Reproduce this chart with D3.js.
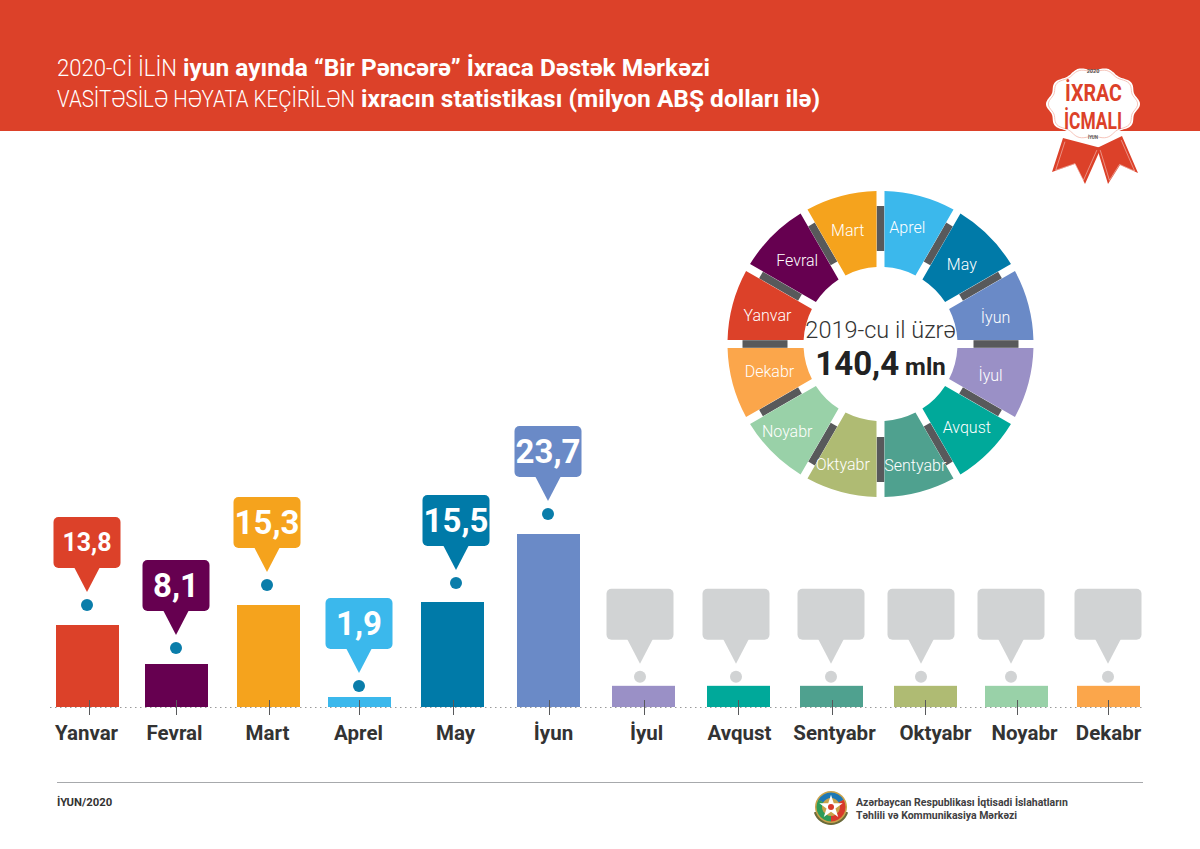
<!DOCTYPE html>
<html>
<head>
<meta charset="utf-8">
<script src="https://cdn.jsdelivr.net/npm/d3@7"></script>
<style>
  html, body { margin: 0; padding: 0; background: #fff; }
  svg { display: block; }
  text { font-family: Roboto, "Noto Sans", sans-serif; }
</style>
</head>
<body>
<svg id="chart" width="1200" height="849"></svg>
<script>
// --- data ---
const months = ['Yanvar', 'Fevral', 'Mart', 'Aprel', 'May', 'İyun', 'İyul', 'Avqust', 'Sentyabr', 'Oktyabr', 'Noyabr', 'Dekabr'];
const values2020 = [13.8, 8.1, 15.3, 1.9, 15.5, 23.7, null, null, null, null, null, null];
const valueLabels = ['13,8', '8,1', '15,3', '1,9', '15,5', '23,7', '', '', '', '', '', ''];
const monthColors = ['#DC4129', '#660050', '#F5A31D', '#3BB8EC', '#007AA8', '#6A8AC7', '#9A90C6', '#00A99A', '#4FA18F', '#AFBB73', '#99D1A8', '#FBA64B'];
const placeholderValue = 4; // months still to come get a short stub bar
const total2019Label = '140,4';

// --- layout (the poster does not place things on a regular grid) ---
const BASE_Y = 707;
const BAR_W = 63;
const barLeft = [56, 145, 237, 328, 421, 517, 612, 707, 800, 894, 985, 1077];
const bubbleCx = [87, 176, 267, 359, 456, 548, 640, 736, 831, 921, 1011, 1108];
const tickPos = [89, 176, 269, 359, 453, 549, 644, 738, 832, 925, 1017, 1108];
const labelCx = [86, 174, 267, 358, 455, 553, 646, 739, 834, 935, 1024, 1108];
const dotLift = [20, 16, 20, 11, 19, 20, 9, 9, 9, 9, 9, 9];
const bubbleFont = [25, 33, 33, 33, 33, 33, 33, 33, 33, 33, 33, 33];
const pieCx = 880.5, pieCy = 344;
const pieNudge = [[-2, 1], [-2, -2], [-3, -2], [-3, -5], [0, 2], [4, 3], [-1, 2], [5, 2], [5, 10], [-8, 9], [-12, 6], [0, -2]];

const svg = d3.select('#chart');

// header band
svg.append('rect').attr('width', 1200).attr('height', 131).attr('fill', '#DC4129');

// the poster font is narrower in light and wider in bold than Roboto, so each run gets its own width
const titleRuns = [
  { text: '2020-Cİ İLİN', x: 57, y: 75.5, len: 120, weight: 300 },
  { text: 'iyun ayında “Bir Pəncərə” İxraca Dəstək Mərkəzi', x: 183, y: 75.5, len: 527, weight: 700 },
  { text: 'VASİTƏSİLƏ HƏYATA KEÇİRİLƏN', x: 57, y: 106.5, len: 298, weight: 300 },
  { text: 'ixracın statistikası (milyon ABŞ dolları ilə)', x: 361, y: 106.5, len: 459, weight: 700 }
];
svg.append('g').selectAll('text').data(titleRuns).join('text')
  .attr('x', d => d.x).attr('y', d => d.y)
  .attr('textLength', d => d.len).attr('lengthAdjust', 'spacingAndGlyphs')
  .attr('font-size', 23).attr('font-weight', d => d.weight).attr('fill', '#fff')
  .text(d => d.text);

// --- badge ---
function drawBadge() {
  const g = svg.append('g');
  const ribbons = [
    [[1063, 138], [1052, 172], [1075, 164], [1085, 184], [1101, 148]],
    [[1097, 148], [1108, 184], [1120, 165], [1138, 173], [1122, 136]]
  ];
  g.selectAll('polygon').data(ribbons).join('polygon')
    .attr('points', d => d.join(' '))
    .attr('fill', '#DC4129');
  // thin white inset on the ribbons, left open at the top
  g.selectAll('polyline').data(ribbons).join('polyline')
    .attr('points', d => {
      const mx = d3.mean(d, p => p[0]), my = d3.mean(d, p => p[1]);
      return d.map(p => [mx + (p[0] - mx) * 0.84, my + (p[1] - my) * 0.84]).join(' ');
    })
    .attr('fill', 'none').attr('stroke', '#fff').attr('stroke-width', 0.6).attr('opacity', 0.7);

  const cx = 1093, cy = 104;
  const blob = k => d3.range(0, 360, 3).map(a => {
    const t = a * Math.PI / 180;
    const r = k * (0.96 + 0.04 * Math.cos(10 * t));
    return [cx + 47 * r * Math.cos(t), cy + 37 * r * Math.sin(t)];
  });
  const line = d3.line().curve(d3.curveCardinalClosed);
  g.append('path').attr('d', line(blob(1))).attr('fill', '#fff');
  g.append('path').attr('d', line(blob(0.95))).attr('fill', 'none').attr('stroke', '#F2B5A8').attr('stroke-width', 0.8);

  g.append('text').attr('x', cx).attr('y', 73).attr('text-anchor', 'middle')
    .attr('font-size', 5.5).attr('font-weight', 700).attr('fill', '#555').text('2020');
  g.append('text').attr('x', 1065).attr('y', 101)
    .attr('textLength', 57).attr('lengthAdjust', 'spacingAndGlyphs')
    .attr('font-size', 24).attr('font-weight', 700).attr('fill', '#DC4129').text('İXRAC');
  g.append('text').attr('x', 1064).attr('y', 129)
    .attr('textLength', 58).attr('lengthAdjust', 'spacingAndGlyphs')
    .attr('font-size', 24).attr('font-weight', 700).attr('fill', '#DC4129').text('İCMALI');
  g.append('text').attr('x', cx).attr('y', 139).attr('text-anchor', 'middle')
    .attr('font-size', 4.5).attr('font-weight', 700).attr('fill', '#555').text('İYUN');
}
drawBadge();

// --- ring with the 2019 months ---
const pie = d3.pie().value(1).sort(null)
  .startAngle(-Math.PI / 2).endAngle(Math.PI * 1.5);
const slices = pie(months);

const arc = d3.arc().innerRadius(77).outerRadius(153)
  .padRadius(120).padAngle(8 / 120);

const ring = svg.append('g').attr('transform', `translate(${pieCx},${pieCy})`);

// grey connectors sit in the gaps between slices
ring.selectAll('rect.link').data(slices).join('rect')
  .attr('class', 'link')
  .attr('x', -3.8).attr('width', 7.6)
  .attr('y', -138).attr('height', 45)
  .attr('fill', '#58595B')
  .attr('transform', d => `rotate(${d.startAngle * 180 / Math.PI})`);

ring.selectAll('path').data(slices).join('path')
  .attr('d', arc)
  .attr('fill', (d, i) => monthColors[i]);

ring.selectAll('text.slice').data(slices).join('text')
  .attr('class', 'slice')
  .attr('x', (d, i) => arc.centroid(d)[0] + pieNudge[i][0])
  .attr('y', (d, i) => arc.centroid(d)[1] + pieNudge[i][1])
  .attr('text-anchor', 'middle')
  .attr('dominant-baseline', 'central')
  .attr('font-size', 16)
  .attr('font-weight', 300)
  .attr('fill', '#fff')
  .text(d => d.data);

ring.append('text').attr('y', -6).attr('text-anchor', 'middle')
  .attr('font-size', 23.5).attr('font-weight', 300).attr('fill', '#333')
  .text('2019-cu il üzrə');
const totalText = ring.append('text').attr('y', 30.5).attr('text-anchor', 'middle').attr('fill', '#222');
totalText.append('tspan').attr('font-size', 33).attr('font-weight', 700).text(total2019Label);
totalText.append('tspan').attr('font-size', 24).attr('font-weight', 700).text(' mln');

// --- bars ---
// bar heights on the poster are not proportional, so the scale runs through the read heights
const y = d3.scaleLinear()
  .domain([0, 1.9, 8.1, 13.8, 15.3, 15.5, 23.7])
  .range([BASE_Y, BASE_Y - 10, BASE_Y - 43, BASE_Y - 82, BASE_Y - 102, BASE_Y - 105, BASE_Y - 173]);
const xBar = d3.scaleOrdinal(months, barLeft);
const xBubble = d3.scaleOrdinal(months, bubbleCx);
const xTick = d3.scaleOrdinal(months, tickPos);
const xLabel = d3.scaleOrdinal(months, labelCx);

const rows = months.map((m, i) => ({
  month: m,
  value: values2020[i],
  label: valueLabels[i],
  color: monthColors[i],
  top: y(values2020[i] === null ? placeholderValue : values2020[i]),
  lift: dotLift[i],
  font: bubbleFont[i]
}));

svg.append('g').selectAll('rect').data(rows).join('rect')
  .attr('x', d => xBar(d.month))
  .attr('y', d => d.top)
  .attr('width', BAR_W)
  .attr('height', d => BASE_Y - d.top)
  .attr('fill', d => d.color);

// dotted baseline
svg.append('line')
  .attr('x1', 50).attr('x2', 1143).attr('y1', BASE_Y + 0.5).attr('y2', BASE_Y + 0.5)
  .attr('stroke', '#999').attr('stroke-width', 1).attr('stroke-dasharray', '1.5 3.5');

// tick marks and month names
const tickAxis = d3.axisBottom(xTick).tickSize(15).tickFormat('');
svg.append('g').attr('transform', `translate(0,${BASE_Y - 7})`).call(tickAxis)
  .call(g => g.select('.domain').remove())
  .call(g => g.selectAll('line').attr('stroke', '#58595B'));

const labelAxis = d3.axisBottom(xLabel).tickSize(0).tickPadding(0);
svg.append('g').attr('transform', `translate(0,${BASE_Y + 18})`).call(labelAxis)
  .call(g => g.select('.domain').remove())
  .call(g => g.selectAll('text')
    .attr('font-family', 'Roboto').attr('font-size', 20.5).attr('font-weight', 700).attr('fill', '#333'));

// markers above the bars
const markers = svg.append('g').selectAll('g').data(rows).join('g')
  .attr('transform', d => `translate(${xBubble(d.month)},${d.top - d.lift})`);

markers.append('circle')
  .attr('r', 6)
  .attr('fill', d => d.value === null ? '#D1D3D4' : '#0A7DAA');

markers.append('rect')
  .attr('x', -33.5).attr('y', -88)
  .attr('width', 67).attr('height', 51).attr('rx', 5)
  .attr('fill', d => d.value === null ? '#D1D3D4' : d.color);

markers.append('polygon')
  .attr('points', '-13,-38 13,-38 0,-13')
  .attr('fill', d => d.value === null ? '#D1D3D4' : d.color);

markers.append('text')
  .attr('y', -62.5)
  .attr('text-anchor', 'middle')
  .attr('dominant-baseline', 'central')
  .attr('font-size', d => d.font)
  .attr('font-weight', 700)
  .attr('fill', '#fff')
  .text(d => d.label);

// --- footer ---
svg.append('line').attr('x1', 57).attr('x2', 1143).attr('y1', 782.5).attr('y2', 782.5)
  .attr('stroke', '#A7A9AC').attr('stroke-width', 1);
svg.append('text').attr('x', 57).attr('y', 806)
  .attr('font-size', 11.3).attr('font-weight', 700).attr('fill', '#333').text('İYUN/2020');

const emblem = svg.append('g').attr('transform', 'translate(831,807)');
emblem.append('path')
  .attr('d', d3.arc()({ innerRadius: 10, outerRadius: 18, startAngle: Math.PI * 0.6, endAngle: Math.PI * 1.4 }))
  .attr('fill', '#6B6A3A');
emblem.append('circle').attr('r', 16).attr('fill', '#C9A24A');
emblem.append('path').attr('d', d3.arc()({ innerRadius: 9, outerRadius: 14.5, startAngle: -Math.PI / 3, endAngle: Math.PI / 3 })).attr('fill', '#1E78B4');
emblem.append('path').attr('d', d3.arc()({ innerRadius: 9, outerRadius: 14.5, startAngle: Math.PI / 3, endAngle: Math.PI })).attr('fill', '#D8392B');
emblem.append('path').attr('d', d3.arc()({ innerRadius: 9, outerRadius: 14.5, startAngle: Math.PI, endAngle: Math.PI * 5 / 3 })).attr('fill', '#2E9B57');
emblem.append('path').attr('d', d3.symbol(d3.symbolStar, 170)()).attr('fill', '#fff');
emblem.append('circle').attr('r', 3).attr('fill', '#D8392B');

const org = svg.append('g').attr('font-size', 10.5).attr('font-weight', 700).attr('fill', '#414042');
org.append('text').attr('x', 856).attr('y', 806).text('Azərbaycan Respublikası İqtisadi İslahatların');
org.append('text').attr('x', 856).attr('y', 819).text('Təhlili və Kommunikasiya Mərkəzi');
</script>
</body>
</html>
